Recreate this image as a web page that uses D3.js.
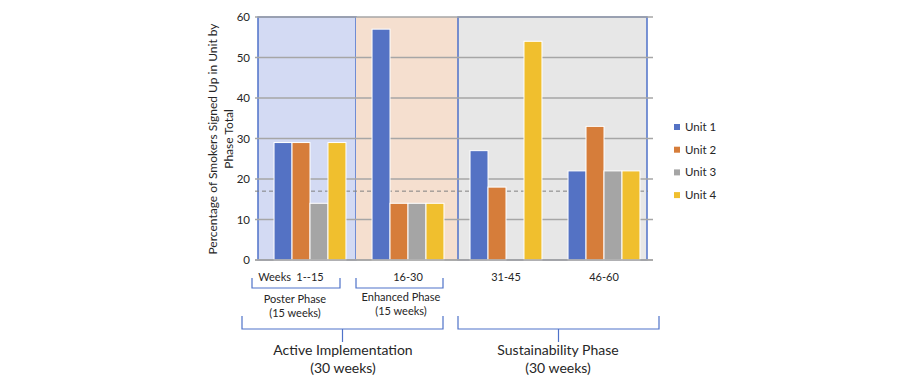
<!DOCTYPE html>
<html>
<head>
<meta charset="utf-8">
<script src="https://cdn.jsdelivr.net/npm/d3@7"></script>
<style>
  body { margin: 0; background: #fff; }
  text { font-family: Lato, "Open Sans", sans-serif; fill: #262626; }
</style>
</head>
<body>
<div id="chart"></div>
<script>
// data
var weeks = ["1--15", "16-30", "31-45", "46-60"];
var units = ["Unit 1", "Unit 2", "Unit 3", "Unit 4"];
var unit1 = [29, 57, 27, 22];
var unit2 = [29, 14, 18, 33];
var unit3 = [14, 14, 0, 22];
var unit4 = [29, 14, 54, 22];
var average = 17;
var yTicks = [0, 10, 20, 30, 40, 50, 60];

var series = [unit1, unit2, unit3, unit4];

var width = 900, height = 389;

// setup fill color
var unitColor = d3.scaleOrdinal()
    .domain(units)
    .range(["#5472c4", "#d67d3a", "#a5a5a5", "#f0bf2e"]);

// setup scales
var x0 = d3.scaleBand()
  .domain(weeks)
  .range([261, 653]);
var bw = x0.bandwidth();
var x1 = d3.scaleBand()
  .domain(units)
  .range([bw * 0.133, bw * 0.867]);
var y = d3.scaleLinear()
  .domain([0, 60])
  .range([260, 17]);

var svg = d3.select("#chart")
  .append("svg")
    .attr("width", width)
    .attr("height", height);

// phase backgrounds
var phases = [
  {x1: x0(weeks[0]) - 3, x2: x0(weeks[1]) - 3, fill: "#d3daf3", stroke: "#4f72c9"},
  {x1: x0(weeks[1]) - 3, x2: x0(weeks[2]) + 1, fill: "#f5dfcf", stroke: "none"},
  {x1: x0(weeks[2]) + 1, x2: x0(weeks[3]) + bw - 6, fill: "#e7e7e7", stroke: "#4f72c9"}
];
svg.selectAll("rect.phase")
  .data(phases)
  .enter()
  .append("rect")
    .attr("class", "phase")
    .attr("x", function(d) { return d.x1; })
    .attr("y", y(60))
    .attr("width", function(d) { return d.x2 - d.x1; })
    .attr("height", y(0) - y(60))
    .style("fill", function(d) { return d.fill; })
    .style("stroke", function(d) { return d.stroke; })
    .style("stroke-width", 1.5);

// gridlines
svg.selectAll("line.grid")
  .data(yTicks)
  .enter()
  .append("line")
    .attr("class", "grid")
    .attr("x1", 255)
    .attr("x2", 653)
    .attr("y1", function(d) { return y(d); })
    .attr("y2", function(d) { return y(d); })
    .style("stroke", "#a6a6a6")
    .style("stroke-width", 1.5);

// average dashed line
svg.append("line")
  .attr("x1", 255)
  .attr("x2", 648)
  .attr("y1", y(average))
  .attr("y2", y(average))
  .style("stroke", "#808080")
  .style("stroke-width", 1)
  .style("stroke-dasharray", "4,3");

// y tick labels
svg.selectAll("text.ytick")
  .data(yTicks)
  .enter()
  .append("text")
    .attr("class", "ytick")
    .attr("x", 250)
    .attr("y", function(d) { return y(d); })
    .attr("dy", "0.35em")
    .attr("text-anchor", "end")
    .style("font-size", "11.5px")
    .text(function(d) { return d; });

// y axis title
var yTitle = svg.append("text")
  .attr("transform", "translate(213,139) rotate(-90)")
  .attr("text-anchor", "middle")
  .style("font-size", "12px");
yTitle.append("tspan").attr("x", 0).attr("dy", "0.35em").text("Percentage of Smokers Signed Up in Unit by");
yTitle.append("tspan").attr("x", 0).attr("dy", "1.35em").text("Phase Total");

// bars
var groups = svg.selectAll("g.week")
  .data(weeks)
  .enter()
  .append("g")
    .attr("class", "week")
    .attr("transform", function(d) { return "translate(" + x0(d) + ",0)"; });

groups.selectAll("rect")
  .data(function(d, i) {
    return units.map(function(u, j) { return {unit: u, value: series[j][i]}; });
  })
  .enter()
  .append("rect")
    .attr("x", function(d) { return x1(d.unit); })
    .attr("y", function(d) { return y(d.value); })
    .attr("width", x1.bandwidth())
    .attr("height", function(d) { return y(0) - y(d.value); })
    .style("fill", function(d) { return unitColor(d.unit); })
    .style("stroke", "#fff")
    .style("stroke-width", 1);

// baseline
svg.append("line")
  .attr("x1", 255)
  .attr("x2", 653)
  .attr("y1", y(0))
  .attr("y2", y(0))
  .style("stroke", "#a6a6a6")
  .style("stroke-width", 1.5);

// week labels
svg.selectAll("text.week")
  .data(weeks)
  .enter()
  .append("text")
    .attr("class", "week")
    .attr("x", function(d) { return x0(d) + bw / 2; })
    .attr("y", 277)
    .attr("dy", "0.35em")
    .attr("text-anchor", "middle")
    .style("font-size", "11px")
    .text(function(d) { return d; });
svg.append("text")
  .attr("x", x0(weeks[0]) + bw / 2 - 19)
  .attr("y", 277)
  .attr("dy", "0.35em")
  .attr("text-anchor", "end")
  .style("font-size", "11px")
  .text("Weeks");

// legend
var legend = svg.selectAll("g.legend")
  .data(units)
  .enter()
  .append("g")
    .attr("class", "legend")
    .attr("transform", function(d, i) { return "translate(674," + (127 + i * 22.7) + ")"; });
legend.append("rect")
  .attr("x", 0)
  .attr("y", -3)
  .attr("width", 6)
  .attr("height", 6)
  .style("fill", function(d) { return unitColor(d); });
legend.append("text")
  .attr("x", 11)
  .attr("dy", "0.35em")
  .style("font-size", "11.5px")
  .text(function(d) { return d; });

// phase brackets
var bracketColor = "#4f72c9";
function bracket(xa, xb, top, bottom, mid) {
  var path = "M" + xa + "," + top + "V" + bottom + "H" + xb + "V" + top;
  if (mid) path += "M" + ((xa + xb) / 2) + "," + bottom + "V" + (bottom + 13);
  svg.append("path")
    .attr("d", path)
    .style("fill", "none")
    .style("stroke", bracketColor)
    .style("stroke-width", 1.2);
}
function label(cx, cy, lines, size, gap) {
  var t = svg.append("text")
    .attr("text-anchor", "middle")
    .style("font-size", size + "px");
  lines.forEach(function(l, i) {
    t.append("tspan").attr("x", cx).attr("y", cy + i * gap).attr("dy", "0.35em").text(l);
  });
}

bracket(x0(weeks[0]) - 9, x0(weeks[0]) + bw - 19, 278, 288, false);
bracket(x0(weeks[1]) - 3, x0(weeks[1]) + bw - 14, 278, 288, false);
label(x0(weeks[0]) + bw / 2 - 15, 299, ["Poster Phase", "(15 weeks)"], 11, 14.5);
label(x0(weeks[1]) + bw / 2 - 7, 297, ["Enhanced Phase", "(15 weeks)"], 11, 14.5);

bracket(x0(weeks[0]) - 19, x0(weeks[1]) + bw - 14, 316, 329, true);
bracket(x0(weeks[2]) + 1, x0(weeks[3]) + bw + 6, 316, 329, true);
label(343, 350, ["Active Implementation", "(30 weeks)"], 14, 18);
label(558, 350, ["Sustainability Phase", "(30 weeks)"], 14, 18);
</script>
</body>
</html>
